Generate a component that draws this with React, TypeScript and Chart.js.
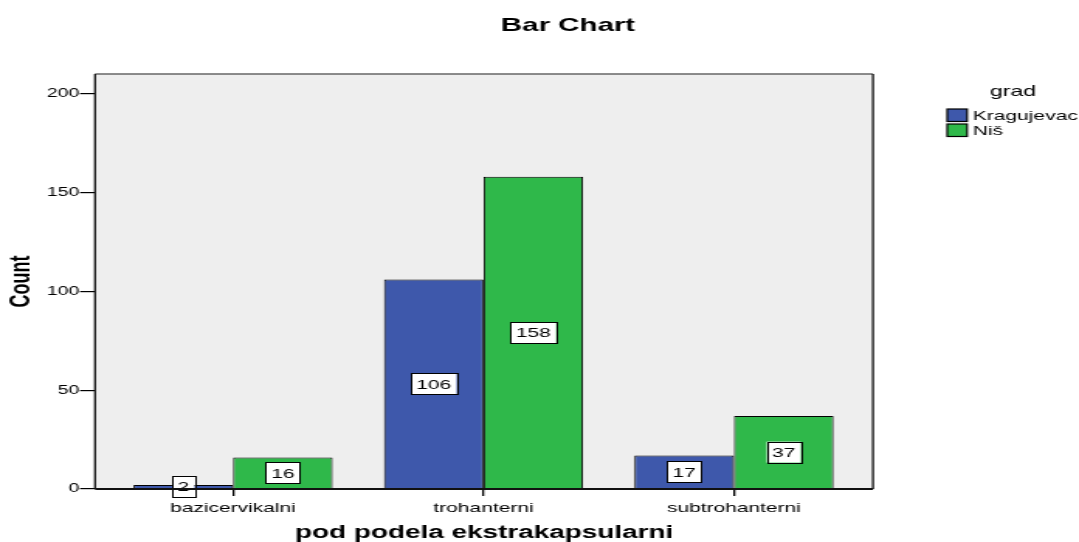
import React, { useEffect, useRef } from "react";
import { Chart, registerables } from "chart.js";

Chart.register(...registerables);

const categories = ["bazicervikalni", "trohanterni", "subtrohanterni"];
const seriesNames = ["Kragujevac", "Niš"];
const kragujevac = [2, 106, 17];
const nis = [16, 158, 37];
const yTicks = [0, 50, 100, 150, 200];
const colors = ["rgb(62,88,171)", "rgb(47,184,74)"];

const FONT = 'Arial, "Liberation Sans", sans-serif';
const OUT_W = 1079;
const OUT_H = 542;
const IN_W = 696;
const SX = OUT_W / IN_W;

export default function App() {
  const ref = useRef<HTMLCanvasElement | null>(null);

  useEffect(() => {
    const canvas = ref.current;
    if (!canvas) return;

    const decor = {
      id: "decor",
      beforeDraw(chart: any) {
        const { ctx, chartArea: a } = chart;
        ctx.save();
        ctx.fillStyle = "#ffffff";
        ctx.fillRect(0, 0, chart.width, chart.height);
        ctx.fillStyle = "#eeeeee";
        ctx.fillRect(a.left, a.top, a.right - a.left, a.bottom - a.top);
        ctx.restore();
      },
      afterDatasetsDraw(chart: any) {
        const { ctx, chartArea: a } = chart;
        ctx.save();
        // data labels
        ctx.font = `13.5px ${FONT}`;
        ctx.textAlign = "center";
        ctx.textBaseline = "middle";
        chart.data.datasets.forEach((ds: any, di: number) => {
          const meta = chart.getDatasetMeta(di);
          meta.data.forEach((el: any, i: number) => {
            const v = ds.data[i].y;
            const txt = String(v);
            const cx = el.x;
            const cy = (el.y + el.base) / 2;
            const w = ctx.measureText(txt).width + 7;
            const h = 21;
            ctx.fillStyle = "#ffffff";
            ctx.fillRect(cx - w / 2, cy - h / 2, w, h);
            ctx.strokeStyle = "#000000";
            ctx.lineWidth = 1;
            ctx.strokeRect(Math.round(cx - w / 2) + 0.5, Math.round(cy - h / 2) + 0.5, Math.round(w), h);
            ctx.fillStyle = "#000000";
            ctx.fillText(txt, cx, cy + 1);
          });
        });
        // frame
        ctx.lineWidth = 1.5;
        ctx.strokeStyle = "#666666";
        ctx.beginPath();
        ctx.moveTo(a.left, a.top);
        ctx.lineTo(a.right, a.top);
        ctx.stroke();
        ctx.strokeStyle = "#111111";
        ctx.lineWidth = 1.3;
        ctx.beginPath();
        ctx.moveTo(a.left, a.top);
        ctx.lineTo(a.left, a.bottom);
        ctx.moveTo(a.right, a.top);
        ctx.lineTo(a.right, a.bottom);
        ctx.stroke();
        ctx.lineWidth = 2;
        ctx.beginPath();
        ctx.moveTo(a.left, a.bottom);
        ctx.lineTo(a.right, a.bottom);
        ctx.stroke();
        ctx.restore();
      },
      afterDraw(chart: any) {
        const { ctx } = chart;
        ctx.save();
        // title
        ctx.fillStyle = "#000000";
        ctx.font = `bold 19px ${FONT}`;
        ctx.textAlign = "center";
        ctx.textBaseline = "middle";
        ctx.fillText("Bar Chart", 366.4, 26);
        // legend
        ctx.font = `15px ${FONT}`;
        ctx.fillText("grad", 653.4, 92);
        ctx.font = `13.5px ${FONT}`;
        ctx.textAlign = "left";
        const boxY = [109, 124];
        seriesNames.forEach((name, i) => {
          ctx.fillStyle = colors[i];
          ctx.fillRect(611, boxY[i], 12.8, 12.5);
          ctx.strokeStyle = "#000000";
          ctx.lineWidth = 1.2;
          ctx.strokeRect(611, boxY[i], 12.8, 12.5);
          ctx.fillStyle = "#000000";
          ctx.fillText(name, 627.6, boxY[i] + 6.8);
        });
        ctx.restore();
      },
    };

    const chart = new Chart(canvas, {
      type: "bar",
      data: {
        datasets: [
          {
            label: seriesNames[0],
            data: kragujevac.map((v, i) => ({ x: i, y: v })),
            backgroundColor: colors[0],
            borderColor: "#000000",
            borderWidth: 1,
            categoryPercentage: 0.795,
            barPercentage: 1,
          },
          {
            label: seriesNames[1],
            data: nis.map((v, i) => ({ x: i, y: v })),
            backgroundColor: colors[1],
            borderColor: "#000000",
            borderWidth: 1,
            categoryPercentage: 0.795,
            barPercentage: 1,
          },
        ] as any,
      },
      options: {
        animation: false,
        responsive: false,
        maintainAspectRatio: false,
        devicePixelRatio: 1,
        layout: { padding: { top: 74, right: 132.9, left: 0, bottom: 0 } },
        plugins: {
          legend: { display: false },
          title: { display: false },
          tooltip: { enabled: false },
        },
        scales: {
          x: {
            type: "linear",
            min: -0.551,
            max: 2.555,
            offset: false,
            afterBuildTicks: (scale: any) => {
              scale.ticks = categories.map((_, i) => ({ value: i }));
            },
            afterFit: (scale: any) => {
              scale.height = OUT_H - 489;
            },
            grid: {
              offset: false,
              drawOnChartArea: false,
              drawTicks: true,
              tickLength: 7,
              color: "#000000",
              lineWidth: 1.3,
            },
            border: { display: false },
            ticks: {
              autoSkip: false,
              maxRotation: 0,
              padding: 4,
              color: "#000000",
              font: { family: FONT, size: 13.5 },
              callback: (v: any) => categories[Math.round(Number(v))] ?? "",
            },
            title: {
              display: true,
              text: "pod podela ekstrakapsularni",
              color: "#000000",
              font: { family: FONT, size: 18, weight: "bold", lineHeight: 1 },
              padding: { top: 0, bottom: 0 },
            },
          },
          y: {
            type: "linear",
            min: 0,
            max: 210,
            afterBuildTicks: (scale: any) => {
              scale.ticks = yTicks.map((v) => ({ value: v }));
            },
            afterFit: (scale: any) => {
              scale.width = 61.3;
            },
            grid: {
              drawOnChartArea: false,
              drawTicks: true,
              tickLength: 9.7,
              color: "#000000",
              lineWidth: 1.2,
            },
            border: { display: false },
            ticks: {
              padding: 0.5,
              color: "#000000",
              font: { family: FONT, size: 12.5 },
            },
            title: {
              display: true,
              text: "Count",
              color: "#000000",
              font: { family: FONT, size: 18, weight: "bold", lineHeight: 1 },
              padding: { top: 5, bottom: 0 },
            },
          },
        },
      } as any,
      plugins: [decor],
    });

    return () => chart.destroy();
  }, []);

  return (
    <div
      style={{
        position: "absolute",
        left: 0,
        top: 0,
        width: OUT_W,
        height: OUT_H,
        overflow: "hidden",
        background: "#ffffff",
      }}
    >
      <canvas
        ref={ref}
        width={IN_W}
        height={OUT_H}
        style={{
          display: "block",
          transform: `scaleX(${SX})`,
          transformOrigin: "0 0",
        }}
      />
    </div>
  );
}
